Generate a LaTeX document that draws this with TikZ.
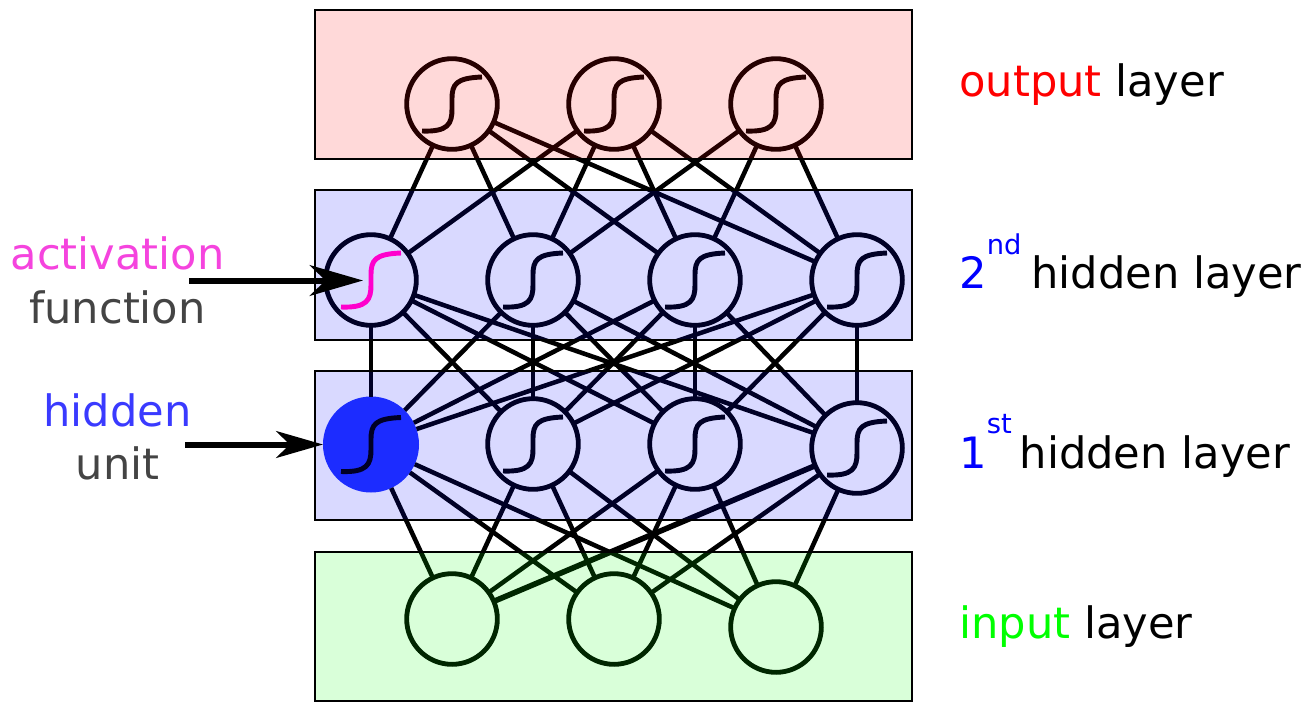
\documentclass[tikz,border=0pt]{standalone}
\usepackage{fontspec}
\setmainfont{DejaVu Sans}
\usetikzlibrary{arrows.meta}
\definecolor{activationpink}{HTML}{F544DE}
\definecolor{curvepink}{HTML}{FF00CC}
\definecolor{hiddenblue}{HTML}{3A3AFF}
\definecolor{unitblue}{HTML}{2134FF}
\definecolor{labelgray}{HTML}{444444}
\tikzset{
  unit/.style={circle,draw=black,line width=3.6pt,minimum size=68pt,inner sep=0pt,outer sep=0pt},
  link/.style={black,line width=3.4pt},
  thicklink/.style={black,line width=4.2pt},
  layerbox/.style={draw=black,line width=1.1pt,fill opacity=0.15},
  sidelabel/.style={anchor=base,inner sep=0pt,font=\fontsize{32.4}{32.4}\selectfont},
  layerlabel/.style={anchor=base west,inner sep=0pt,font=\fontsize{32.4}{32.4}\selectfont},
  sigmoid/.pic={\draw[line width=3.7pt,pic actions] (-30,27) .. controls (-4,28) and (0,20) .. (0,5) -- (0,-5) .. controls (0,-20) and (4,-26) .. (30,-27);}
}
\newcommand{\supertext}[2]{\raisebox{#1}{\fontsize{20.5}{20.5}\selectfont #2}}
\begin{document}
\begin{tikzpicture}[x=0.75pt, y=-0.75pt]
\useasboundingbox (0,0) rectangle (1312,718);

% Units
\node[unit] (o1) at (452,104) {};
\node[unit] (o2) at (614,104) {};
\node[unit] (o3) at (776,104) {};

\node[unit] (s1) at (371,280) {};
\node[unit] (s2) at (533,280) {};
\node[unit] (s3) at (695,280) {};
\node[unit] (s4) at (857,280) {};

\node[unit,draw=none,fill=unitblue,minimum size=72pt] (f1) at (371,444.5) {};
\node[unit] (f2) at (533,444) {};
\node[unit] (f3) at (695,444) {};
\node[unit] (f4) at (857,448) {};

\node[unit] (i1) at (452,619) {};
\node[unit] (i2) at (614,619) {};
\node[unit] (i3) at (776,627) {};

% Sigmoids
\pic at (o1) {sigmoid};
\pic at (o2) {sigmoid};
\pic at (o3) {sigmoid};
\pic at (s2) {sigmoid};
\pic at (s3) {sigmoid};
\pic at (s4) {sigmoid};
\pic at (f1) {sigmoid};
\pic at (f2) {sigmoid};
\pic at (f3) {sigmoid};
\pic at (f4) {sigmoid};

% Output links
\draw[link] (o1) -- (s1);
\draw[link] (o1) -- (s2);
\draw[link] (o1) -- (s3);
\draw[link] (o1) -- (s4);
\draw[link] (o2) -- (s1);
\draw[link] (o2) -- (s2);
\draw[link] (o2) -- (s3);
\draw[link] (o2) -- (s4);
\draw[link] (o3) -- (s2);
\draw[link] (o3) -- (s3);
\draw[link] (o3) -- (s4);

% Hidden links
\draw[link] (s1) -- (f1);
\draw[link] (s1) -- (f2);
\draw[link] (s1) -- (f3);
\draw[link] (s1) -- (f4);
\draw[link] (s2) -- (f1);
\draw[link] (s2) -- (f2);
\draw[link] (s2) -- (f3);
\draw[link] (s2) -- (f4);
\draw[link] (s3) -- (f1);
\draw[link] (s3) -- (f2);
\draw[link] (s3) -- (f3);
\draw[link] (s3) -- (f4);
\draw[link] (s4) -- (f1);
\draw[link] (s4) -- (f2);
\draw[link] (s4) -- (f3);
\draw[link] (s4) -- (f4);

% Input links
\draw[link] (f1) -- (i1);
\draw[link] (f1) -- (i2);
\draw[link] (f1) -- (i3);
\draw[link] (f2) -- (i1);
\draw[link] (f2) -- (i2);
\draw[link] (f2) -- (i3);
\draw[link] (f3) -- (i1);
\draw[link] (f3) -- (i2);
\draw[link] (f3) -- (i3);
\draw[thicklink] (f4) -- (i1);
\draw[link] (f4) -- (i2);
\draw[link] (f4) -- (i3);

% Layers
\fill[red,layerbox] (315,10) rectangle (912,159);
\fill[blue,layerbox] (315,190) rectangle (912,340);
\fill[blue,layerbox] (315,371) rectangle (912,520);
\fill[green,layerbox] (315,552) rectangle (912,701);

% Pink sigmoid
\pic[draw=curvepink] at (s1) {sigmoid};

% Side labels
\node[sidelabel,text=activationpink] (activation) at (117.5,269) {activation};
\node[sidelabel,text=labelgray] (function) at (117.5,323) {function};
\node[sidelabel,text=hiddenblue] (hidden) at (117.5,426) {hidden};
\node[sidelabel,text=labelgray] (unitname) at (117.5,479) {unit};

% Arrows
\coordinate (activationtail) at (189,280.5);
\coordinate (activationtip) at (363,280.5);
\coordinate (hiddentail) at (185,444.5);
\draw[line width=4.5pt,-{Stealth[length=40pt,width=23pt,inset=12pt]}] (activationtail) -- (activationtip);
\draw[line width=4.5pt,-{Stealth[length=35pt,width=20pt,inset=10pt]}] (hiddentail) -- (f1);

% Layer labels
\node[layerlabel] (outputlabel) at (959,96) {\textcolor{red}{output} layer};
\node[layerlabel] (secondlabel) at (959,288) {\textcolor{blue}{2\supertext{25.5pt}{nd}}\hspace{7.5pt}hidden layer};
\node[layerlabel] (firstlabel) at (959,468) {\textcolor{blue}{1\supertext{26pt}{st}}\hspace{6pt}hidden layer};
\node[layerlabel] (inputlabel) at (959,638) {\textcolor{green}{input} layer};
\end{tikzpicture}
\end{document}
